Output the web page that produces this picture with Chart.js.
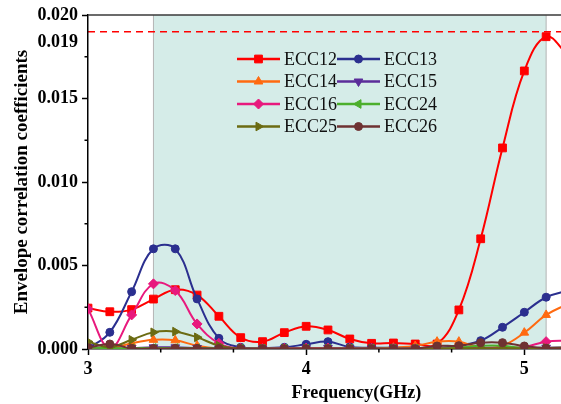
<!DOCTYPE html>
<html>
<head>
<meta charset="utf-8">
<script src="https://cdn.jsdelivr.net/npm/chart.js@4.4.0/dist/chart.umd.min.js"></script>
<style>
  html, body { margin: 0; padding: 0; background: #fff; overflow: hidden; }
  #wrap { width: 561px; height: 404px; overflow: hidden; }
</style>
</head>
<body>
<div id="wrap"><canvas id="eccChart" width="569" height="404"></canvas></div>
<script>
// frequency points (GHz), one marker every 0.1 GHz
const freq = [3.0, 3.1, 3.2, 3.3, 3.4, 3.5, 3.6, 3.7, 3.8, 3.9, 4.0, 4.1, 4.2, 4.3, 4.4, 4.5, 4.6, 4.7, 4.8, 4.9, 5.0, 5.1, 5.2];

const ecc12 = [0.00245, 0.00223, 0.00236, 0.00299, 0.00355, 0.00323, 0.00196, 0.00068, 0.00044, 0.00098, 0.00136, 0.00114, 0.0006, 0.00034, 0.00036, 0.0003, 0.0003, 0.00234, 0.0066, 0.01204, 0.01665, 0.0187, 0.0176];
const ecc13 = [0.00002, 0.001, 0.00343, 0.006, 0.006, 0.003, 0.00064, 0.0001, 0.00005, 0.0001, 0.00028, 0.00044, 0.00012, 0.00008, 0.00008, 0.00006, 0.00005, 0.00022, 0.0005, 0.0013, 0.0022, 0.0031, 0.0035];
const ecc14 = [0.00005, 0.00002, 0.00034, 0.00055, 0.00052, 0.0002, 0.00003, 0.00002, 0.00002, 0.00002, 0.00003, 0.00005, 0.00003, 0.00002, 0.00008, 0.00018, 0.00044, 0.00044, 0.00008, 0.0002, 0.00098, 0.00204, 0.0027];
const ecc15 = [0.00012, 0.00004, 0.00006, 0.0001, 0.0001, 0.00006, 0.00003, 0.00002, 0.00002, 0.00003, 0.00005, 0.00006, 0.00004, 0.00002, 0.00002, 0.00003, 0.00004, 0.00006, 0.00008, 0.00006, 0.00005, 0.00008, 0.0001];
const ecc16 = [0.0024, 0.00005, 0.00204, 0.0039, 0.0035, 0.0015, 0.00034, 0.00002, 0.00002, 0.00003, 0.00005, 0.00005, 0.00003, 0.00002, 0.00002, 0.00002, 0.00003, 0.00004, 0.00005, 0.00008, 0.00012, 0.00044, 0.0005];
const ecc24 = [0.00008, 0.00005, 0.00005, 0.00006, 0.00006, 0.00005, 0.00003, 0.00002, 0.00002, 0.00002, 0.00002, 0.00002, 0.00002, 0.00002, 0.00002, 0.00002, 0.00003, 0.00008, 0.0002, 0.0002, 0.00005, 0.00003, 0.00003];
const ecc25 = [0.00044, 0.00012, 0.00055, 0.001, 0.00104, 0.0007, 0.0002, 0.00003, 0.00002, 0.00002, 0.00002, 0.00002, 0.00002, 0.00002, 0.00002, 0.00002, 0.00003, 0.00004, 0.00005, 0.00005, 0.00004, 0.00006, 0.0001];
const ecc26 = [0.00008, 0.0003, 0.00004, 0.00003, 0.00004, 0.00004, 0.00003, 0.00002, 0.00002, 0.00002, 0.00002, 0.00002, 0.00002, 0.00002, 0.00002, 0.00002, 0.00018, 0.0002, 0.00038, 0.00038, 0.00018, 0.00005, 0.00005];

const seriesNames = ['ECC12', 'ECC13', 'ECC14', 'ECC15', 'ECC16', 'ECC24', 'ECC25', 'ECC26'];
const seriesValues = [ecc12, ecc13, ecc14, ecc15, ecc16, ecc24, ecc25, ecc26];
const seriesColors = ['#ff0000', '#2b2f8f', '#ff6a10', '#5b2d9a', '#e8197d', '#4caf2c', '#6b6b12', '#6e3232'];
const seriesMarkers = ['rect', 'circle', 'triangle', 'triangle', 'rectRot', 'triangle', 'triangle', 'circle'];
const seriesRotation = [0, 0, 0, 180, 0, 270, 90, 0];
const seriesRadius = [5.5, 4, 5, 5, 5, 5, 5, 4];

const xTicks = [3, 4, 5];
const xMinorTicks = [3 + 1 / 3, 3 + 2 / 3, 4 + 1 / 3, 4 + 2 / 3];
const yTicks = [0, 0.005, 0.010, 0.015, 0.020];
const yMinorTicks = [0.0025, 0.0075, 0.0125, 0.0175];
const bandStart = 3.3;
const bandEnd = 5.1;
const limitValue = 0.019;

const serif = '"Liberation Serif", "Times New Roman", serif';

const datasets = seriesNames.map((name, i) => ({
    label: name,
    data: freq.map((f, k) => ({x: f, y: seriesValues[i][k]})),
    borderColor: seriesColors[i],
    backgroundColor: seriesColors[i],
    borderWidth: 2,
    tension: 0.4,
    pointStyle: seriesMarkers[i],
    pointRotation: seriesRotation[i],
    pointRadius: seriesRadius[i],
    pointBorderWidth: 1,
    order: seriesNames.length - i
}));

const decorPlugin = {
    id: 'decor',
    beforeDraw(chart) {
        const {ctx, chartArea: a, scales: {x, y}} = chart;
        const x0 = x.getPixelForValue(bandStart);
        const x1 = x.getPixelForValue(bandEnd);
        ctx.save();
        ctx.fillStyle = '#d5ece8';
        ctx.fillRect(x0, a.top, x1 - x0, a.bottom - a.top);
        ctx.strokeStyle = '#b4b4b4';
        ctx.lineWidth = 1;
        ctx.beginPath();
        ctx.moveTo(x0, a.top); ctx.lineTo(x0, a.bottom);
        ctx.moveTo(x1, a.top); ctx.lineTo(x1, a.bottom);
        ctx.stroke();
        const yl = y.getPixelForValue(limitValue);
        ctx.strokeStyle = '#ff0000';
        ctx.lineWidth = 1.5;
        ctx.setLineDash([7, 5]);
        ctx.beginPath();
        ctx.moveTo(a.left, yl); ctx.lineTo(a.right, yl);
        ctx.stroke();
        ctx.restore();
    },
    afterDraw(chart) {
        const {ctx, chartArea: a, scales: {x, y}} = chart;
        ctx.save();
        // top frame line
        ctx.strokeStyle = '#3a3a3a';
        ctx.lineWidth = 1.5;
        ctx.beginPath();
        ctx.moveTo(a.left, a.top); ctx.lineTo(a.right, a.top);
        ctx.stroke();
        // minor ticks
        ctx.strokeStyle = '#000';
        ctx.beginPath();
        xMinorTicks.forEach(v => {
            const px = x.getPixelForValue(v);
            ctx.moveTo(px, a.bottom); ctx.lineTo(px, a.bottom + 3.5);
        });
        yMinorTicks.forEach(v => {
            const py = y.getPixelForValue(v);
            ctx.moveTo(a.left, py); ctx.lineTo(a.left - 3.5, py);
        });
        ctx.stroke();
        // 0.019 annotation
        ctx.fillStyle = '#000';
        ctx.font = 'bold 18px ' + serif;
        ctx.textAlign = 'right';
        ctx.textBaseline = 'middle';
        ctx.fillText('0.019', a.left - 10, y.getPixelForValue(limitValue) + 11);
        // x axis title
        ctx.textAlign = 'center';
        ctx.fillText('Frequency(GHz)', x.getPixelForValue(4.23), a.bottom + 44);
        // legend
        ctx.font = '18px ' + serif;
        ctx.textAlign = 'left';
        seriesNames.forEach((name, i) => {
            const col = i % 2, row = Math.floor(i / 2);
            const lx = 237 + col * 100;
            const ly = 59 + row * 22.5;
            ctx.strokeStyle = seriesColors[i];
            ctx.fillStyle = seriesColors[i];
            ctx.lineWidth = 2.5;
            ctx.beginPath();
            ctx.moveTo(lx, ly); ctx.lineTo(lx + 43, ly);
            ctx.stroke();
            ctx.lineWidth = 1;
            Chart.helpers.drawPoint(ctx, {
                pointStyle: seriesMarkers[i],
                rotation: seriesRotation[i],
                radius: seriesRadius[i],
                borderWidth: 1
            }, lx + 21.5, ly);
            ctx.fillStyle = '#111';
            ctx.fillText(name, lx + 47, ly + 1);
        });
        ctx.restore();
    }
};

new Chart(document.getElementById('eccChart').getContext('2d'), {
    type: 'line',
    data: {datasets: datasets},
    options: {
        responsive: false,
        animation: false,
        layout: {padding: {top: 15, right: 0, left: 0, bottom: 0}},
        plugins: {
            legend: {display: false},
            tooltip: {enabled: false}
        },
        scales: {
            x: {
                type: 'linear',
                min: 3,
                max: 5.175,
                afterBuildTicks: scale => { scale.ticks = xTicks.map(v => ({value: v})); },
                afterFit: scale => { scale.height = 55; },
                ticks: {
                    color: '#000',
                    padding: 4,
                    font: {family: serif, size: 18, weight: 'bold'},
                    callback: v => String(v)
                },
                grid: {drawOnChartArea: false, color: '#000', tickLength: 6, tickWidth: 1.5},
                border: {display: true, color: '#000', width: 1.5}
            },
            y: {
                min: 0,
                max: 0.02,
                afterBuildTicks: scale => { scale.ticks = yTicks.map(v => ({value: v})); },
                afterFit: scale => { scale.width = 88; },
                ticks: {
                    color: '#000',
                    padding: 4,
                    font: {family: serif, size: 18, weight: 'bold'},
                    callback: v => v.toFixed(3)
                },
                grid: {drawOnChartArea: false, color: '#000', tickLength: 6, tickWidth: 1.5},
                border: {display: true, color: '#000', width: 1.5},
                title: {
                    display: true,
                    text: 'Envelope correlation coefficients',
                    color: '#000',
                    padding: {top: 11, bottom: 0},
                    font: {family: serif, size: 19, weight: 'bold'}
                }
            }
        }
    },
    plugins: [decorPlugin]
});
</script>
</body>
</html>
